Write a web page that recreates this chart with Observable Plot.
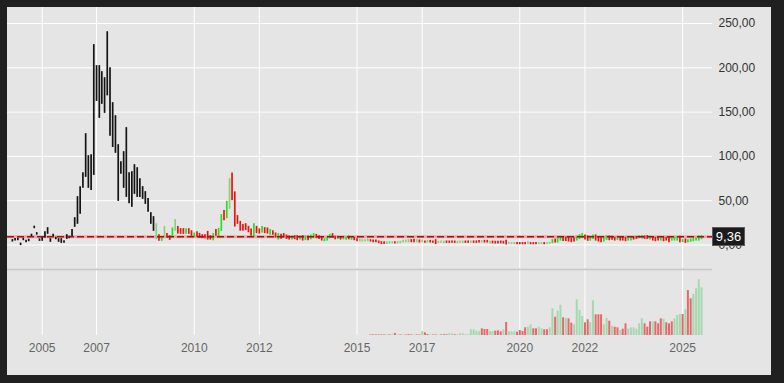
<!DOCTYPE html>
<html><head><meta charset="utf-8">
<script src="https://cdn.jsdelivr.net/npm/d3@7"></script>
<script src="https://cdn.jsdelivr.net/npm/@observablehq/plot@0.6"></script>
<style>
html,body{margin:0;padding:0;background:#202020;}
#wrap{position:relative;width:784px;height:383px;background:#202020;overflow:hidden;font-family:"Liberation Sans",Arial,sans-serif;}
#panel{position:absolute;left:7px;top:7px;width:764px;height:368px;background:#e5e5e5;}
#price{position:absolute;left:7px;top:7px;}
#vol{position:absolute;left:7px;top:268px;}
#price svg,#vol svg{display:block;max-width:none;}
#last{position:absolute;left:712px;width:31px;height:17px;background:#1b1b1b;border:1px solid #5c5c5c;color:#fff;font-size:13px;line-height:17px;text-align:center;box-sizing:content-box;}
</style></head><body>
<div id="wrap"><div id="panel"></div><div id="price"></div><div id="vol"></div><div id="last"></div></div>
<script>
// ---- data (monthly bars, first bar June 2004) ----
const firstMonth = "2004-06-01";
const lows = [
 4.3,5.5,5.8,0.3,5.8,3.6,4.7,10.2,19.4,12.1,5.0,5.1,
 8.5,13.0,4.0,10.2,6.9,4.0,2.8,2.8,7.3,8.1,9.6,20.9,
 24.3,35.6,64.9,77.3,64.9,62.6,79.5,163.0,143.9,159.7,149.5,169.3,
 123.6,111.0,104.4,50.2,80.7,64.9,54.7,47.4,43.5,58.1,54.7,54.7,
 52.5,46.8,37.8,24.3,16.4,7.0,5.1,5.1,8.8,8.5,6.2,9.6,
 16.4,13.3,13.0,13.0,13.0,13.0,10.7,10.0,9.6,8.5,8.1,8.1,
 6.5,6.5,5.9,10.7,10.4,16.4,28.4,30.7,41.2,51.0,21.2,24.3,
 16.4,16.4,17.2,14.9,10.7,9.6,13.8,13.3,14.4,13.8,13.3,11.9,
 11.9,8.8,6.5,7.5,8.8,7.3,6.5,6.5,7.0,5.9,6.5,5.4,
 5.9,5.9,6.8,8.8,8.1,7.3,5.4,4.7,5.4,8.1,8.8,6.8,
 7.3,6.5,6.8,6.2,6.8,6.2,5.8,4.7,4.3,4.3,4.3,4.7,
 4.3,3.6,3.6,2.5,1.4,1.6,1.6,1.8,2.0,2.0,2.0,2.3,
 3.2,3.6,3.6,3.6,3.6,3.6,3.2,3.6,2.8,3.2,3.2,2.8,
 1.4,2.5,2.8,2.5,2.8,2.8,2.8,2.8,2.5,2.8,2.8,2.8,
 2.8,2.8,2.8,2.8,3.2,3.2,3.2,3.2,2.0,2.3,2.0,2.0,
 2.3,2.0,0.9,1.4,1.2,1.2,1.2,1.2,1.2,1.2,1.2,1.2,
 1.2,1.2,1.2,1.2,1.2,1.2,1.5,2.5,3.2,3.2,5.4,5.0,
 5.0,4.3,3.6,4.3,5.4,7.0,8.5,6.5,5.1,5.4,7.3,5.4,
 4.3,3.6,4.3,6.2,5.8,6.2,5.4,6.2,5.4,5.4,4.7,5.4,
 5.4,6.5,7.3,8.1,7.7,7.3,7.3,6.5,5.4,4.7,5.4,5.4,
 4.7,5.4,3.6,5.4,5.4,5.4,3.6,3.6,2.8,3.6,4.0,4.7,
 5.4,5.4,7.0];
const highs = [
 5.2,6.4,6.7,1.2,6.7,4.5,5.6,11.2,20.3,13.0,5.9,8.5,
 14.1,18.6,6.2,11.2,7.8,6.2,6.2,3.7,10.7,9.0,16.4,29.9,
 53.6,64.9,80.7,124.7,99.9,101.0,225.2,201.5,201.5,194.7,187.9,239.8,
 199.2,159.7,145.0,112.3,93.1,104.4,131.5,80.7,81.8,89.7,86.3,73.9,
 64.9,59.3,51.4,35.5,31.0,23.1,10.7,8.5,20.0,11.9,9.6,18.3,
 27.7,20.0,17.5,17.5,17.5,17.5,15.2,12.6,14.1,12.2,10.7,10.7,
 14.4,9.6,11.9,16.4,17.8,33.3,38.1,48.3,73.9,80.4,59.0,32.2,
 25.7,22.3,23.1,20.1,17.2,23.1,20.1,17.2,20.0,18.6,18.3,16.4,
 15.2,12.6,11.9,11.3,11.9,10.4,9.3,9.3,9.6,9.6,9.3,9.6,
 9.3,9.3,10.4,11.9,11.0,9.6,8.1,6.2,8.1,11.0,11.9,9.0,
 8.8,7.7,8.8,7.7,9.0,8.1,7.7,6.2,5.4,5.1,5.1,5.8,
 5.1,4.7,4.7,3.6,2.8,2.8,2.8,2.8,2.8,2.8,2.8,3.2,
 4.3,4.7,5.1,5.1,5.4,5.1,4.7,4.7,3.6,4.3,4.3,3.6,
 5.1,3.2,3.6,3.2,3.6,3.6,3.6,3.6,3.2,3.6,3.6,3.6,
 3.6,3.6,3.6,3.6,4.0,4.0,4.3,4.3,3.2,3.4,3.2,3.2,
 3.6,3.2,4.3,2.0,1.8,1.8,1.8,1.8,1.8,1.8,2.8,1.8,
 1.8,1.8,1.8,1.8,1.8,1.8,2.2,5.1,5.8,7.0,8.8,8.5,
 8.1,8.5,6.5,7.3,9.0,10.7,11.9,10.4,9.3,8.5,10.4,10.4,
 8.1,7.3,8.1,9.3,9.3,8.8,7.7,8.8,8.5,7.7,7.7,7.7,
 7.7,8.1,8.8,9.6,9.6,9.3,9.6,8.8,8.1,7.7,8.1,8.1,
 7.7,7.7,7.7,8.1,7.7,8.1,8.8,5.1,5.8,5.1,5.8,6.5,
 7.0,9.3,9.6];
// k = no open (black), u = up, l = up (muted), d = down
const dirs = (
 "k k k k k k k k k k " +
 "k k k k k k k k k k " +
 "k k k k k k k k k k " +
 "k k k k k k k k k k " +
 "k k k k k k k k k k " +
 "k k k l d u l d d u " +
 "l d d d u d d u d d " +
 "d d d d u d u u d u " +
 "l d d d d d d d d u " +
 "d d u d d u d d u d " +
 "d d d u d d u d u d " +
 "u u d d d u u u d d " +
 "u d u u d u d d l l " +
 "l l d d d d d d l l " +
 "l d l l l l l d d l " +
 "d l d l d d d l l l " +
 "d d d d l l l d d l " +
 "d d d l d d l d d d " +
 "d d d l l l d d d d " +
 "l d d d l l d l l u " +
 "d u u d d d d d u u " +
 "u d d u u d d d u u " +
 "d d d u d d d u u d " +
 "d u u d d u d d d u " +
 "d d d u u u d u d u " +
 "u u u u u").split(" ");
const lastClose = 9.36;

// volume (first volume bar June 2015)
const volFirstMonth = "2015-06-01";
const volumes = [
 6,6,6,6,6,6,8,6,6,20,
 6,6,6,6,8,6,6,6,6,40,
 27,10,6,6,6,6,6,8,8,17,
 17,8,8,17,17,8,8,57,57,43,
 37,67,60,60,40,40,43,47,37,57,
 130,37,37,37,33,50,40,77,83,107,
 67,67,83,67,57,57,77,267,183,243,
 303,177,170,167,123,107,357,250,190,127,
 157,127,347,207,207,207,107,173,143,93,
 83,77,50,63,117,63,77,77,63,117,
 167,117,83,137,137,137,117,167,163,127,
 117,137,167,200,210,210,257,450,367,410,
 467,557,477];
const volDirs = (
 "d d d d d d u d u d " +
 "u d u d d d u d d u " +
 "d d u d d u d d d u " +
 "u d u u u u u u u u " +
 "u d d d u u d d d u " +
 "d u u u d d d d u u " +
 "d d u u d d u u d u " +
 "u d u d d u u u u d " +
 "d u u d d d u u d u " +
 "d d u d d u u u u u " +
 "u d d d u d d d u d " +
 "d d u u u d u d d u " +
 "u u u").split(" ");

const yTicks = [0, 50, 100, 150, 200, 250];
const tickDates = ["2005-05-01","2007-01-01","2010-01-01","2012-01-01","2015-01-01","2017-01-01","2020-01-01","2022-01-01","2025-01-01"];

if (lows.length !== highs.length || dirs.length !== lows.length || volumes.length !== volDirs.length)
  throw new Error(`lengths ${lows.length} ${highs.length} ${dirs.length} ${volumes.length} ${volDirs.length}`);

// ---- build tables ----
const start = new Date(firstMonth);
const bars = lows.map((lo, i) => ({date: d3.utcMonth.offset(start, i), low: lo, high: highs[i], dir: dirs[i]}));
const vstart = new Date(volFirstMonth);
const vols = volumes.map((v, i) => ({date: d3.utcMonth.offset(vstart, i), vol: v, dir: volDirs[i]}));
const ticks = tickDates.map(d => new Date(d));

const fmt = d3.formatLocale({decimal: ",", thousands: ".", grouping: [3], currency: ["", ""]}).format(".2f");
const xDomain = [new Date("2004-04-07"), new Date("2025-12-02")];
const W = 764, MR = 59;
const font = '"Liberation Sans", Arial, sans-serif';
const colors = {k: "#141414", u: "#22e022", l: "#8fcf73", d: "#ea140f"};

const priceMarks = [
  Plot.gridY(yTicks, {stroke: "#ffffff", strokeOpacity: 1, strokeWidth: 1}),
  Plot.gridX(ticks, {stroke: "#ffffff", strokeOpacity: 1, strokeWidth: 1}),
  Plot.ruleY([lastClose], {stroke: "#f3a3a3", strokeWidth: 3})
];
for (const k of ["k", "l", "u", "d"]) {
  priceMarks.push(Plot.ruleX(bars.filter(b => b.dir === k), {x: "date", y1: "low", y2: "high", stroke: colors[k], strokeWidth: 1.7, strokeLinecap: "square"}));
}
priceMarks.push(Plot.ruleY([lastClose], {stroke: "#8a1c1c", strokeWidth: 1.5, strokeDasharray: "7,3"}));
priceMarks.push(Plot.axisY({anchor: "right", ticks: yTicks, tickSize: 0, tickPadding: 6, tickFormat: fmt, fill: "#333"}));

const price = Plot.plot({
  width: W, height: 261, marginLeft: 0, marginRight: MR, marginTop: 0, marginBottom: 0,
  style: {background: "transparent", fontFamily: font, fontSize: "12px", color: "#333", overflow: "visible"},
  x: {type: "utc", domain: xDomain, axis: null},
  y: {domain: [-26.52, 268.06], axis: null},
  marks: priceMarks
});
document.getElementById("price").appendChild(price);

const volMax = 660;
const volume = Plot.plot({
  width: W, height: 107, marginLeft: 0, marginRight: MR, marginTop: 1, marginBottom: 40,
  style: {background: "transparent", fontFamily: font, fontSize: "12px", color: "#666", overflow: "visible"},
  x: {type: "utc", domain: xDomain, axis: null},
  y: {domain: [0, volMax], axis: null},
  marks: [
    Plot.gridX(ticks, {stroke: "#ffffff", strokeOpacity: 1, strokeWidth: 1}),
    Plot.ruleY([volMax], {stroke: "#c8c8c8", strokeWidth: 1.5}),
    Plot.ruleX(vols.filter(v => v.dir === "u"), {x: "date", y1: 0, y2: "vol", stroke: "#a6d8b0", strokeWidth: 2}),
    Plot.ruleX(vols.filter(v => v.dir === "d"), {x: "date", y1: 0, y2: "vol", stroke: "#e36a6a", strokeWidth: 2}),
    Plot.axisX({anchor: "bottom", ticks: ticks, tickSize: 0, tickPadding: 8, tickFormat: d3.utcFormat("%Y"), fill: "#666"})
  ]
});
document.getElementById("vol").appendChild(volume);

// last price label
const yLast = price.scale("y").apply(lastClose);
const lab = document.getElementById("last");
lab.textContent = fmt(lastClose);
lab.style.top = (7 + yLast - 9.5) + "px";
</script>
</body></html>
